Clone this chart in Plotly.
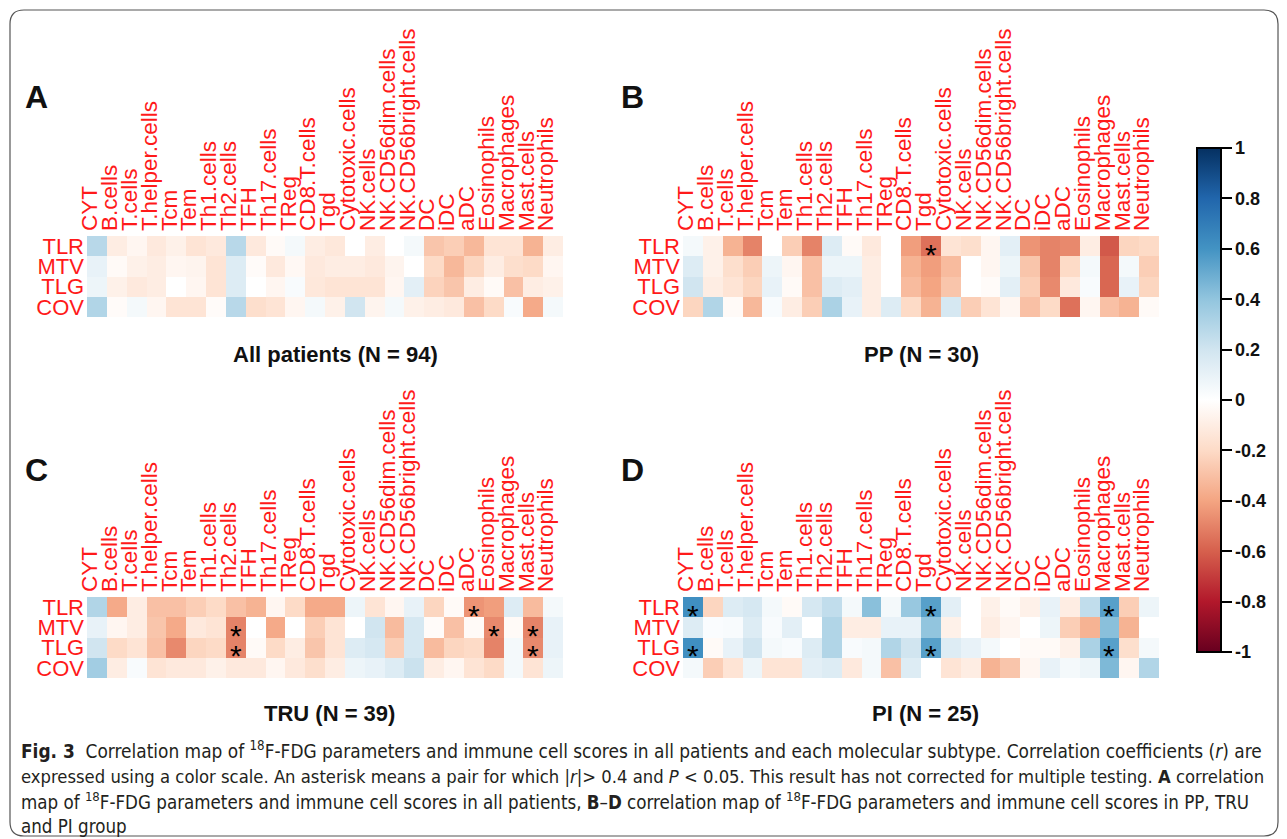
import plotly.graph_objects as go

# ---------------- data ----------------
cols = ["CYT", "B.cells", "T.cells", "T.helper.cells", "Tcm", "Tem", "Th1.cells",
        "Th2.cells", "TFH", "Th17.cells", "TReg", "CD8.T.cells", "Tgd",
        "Cytotoxic.cells", "NK.cells", "NK.CD56dim.cells", "NK.CD56bright.cells",
        "DC", "iDC", "aDC", "Eosinophils", "Macrophages", "Mast.cells", "Neutrophils"]
rows = ["TLR", "MTV", "TLG", "COV"]

r_all = [
    [0.28, -0.10, -0.05, -0.12, -0.08, -0.15, -0.12, 0.28, -0.12, -0.03, 0.05, -0.10,
     -0.13, 0.00, -0.10, 0.00, 0.05, -0.28, -0.25, -0.33, -0.15, -0.15, -0.35, -0.10],
    [0.10, -0.03, -0.08, -0.10, -0.05, -0.06, -0.15, 0.15, -0.02, -0.12, -0.04, -0.12,
     -0.10, -0.10, -0.12, -0.06, 0.00, -0.20, -0.33, -0.22, -0.10, -0.18, -0.20, -0.05],
    [0.08, -0.08, -0.12, -0.10, 0.00, -0.05, -0.15, 0.15, 0.00, -0.05, 0.03, -0.13,
     -0.15, -0.15, -0.15, -0.05, 0.12, -0.23, -0.28, -0.10, -0.03, -0.30, -0.10, -0.08],
    [0.30, -0.02, 0.05, -0.05, -0.15, -0.15, -0.02, 0.28, -0.18, -0.15, -0.05, 0.05,
     -0.08, 0.20, -0.06, 0.05, -0.08, -0.10, -0.12, -0.30, -0.20, 0.03, -0.38, 0.05],
]
r_pp = [
    [0.05, -0.08, -0.35, -0.50, 0.00, -0.25, -0.50, 0.15, -0.03, -0.12, 0.00, -0.42,
     -0.55, -0.15, -0.18, -0.05, 0.12, -0.45, -0.50, -0.48, -0.10, -0.62, -0.22, -0.20],
    [0.15, -0.08, -0.18, -0.25, 0.08, -0.05, -0.30, 0.08, 0.08, -0.10, 0.00, -0.35,
     -0.42, -0.32, 0.00, -0.05, 0.08, -0.28, -0.50, -0.20, 0.05, -0.58, 0.05, -0.25],
    [0.20, -0.10, -0.15, -0.22, 0.10, -0.03, -0.30, 0.15, 0.12, -0.10, 0.00, -0.32,
     -0.40, -0.28, 0.00, -0.02, 0.12, -0.25, -0.48, -0.12, 0.03, -0.58, 0.10, -0.22],
    [-0.22, 0.30, -0.03, -0.33, 0.03, -0.10, -0.25, 0.32, 0.10, -0.10, 0.15, -0.20,
     -0.35, 0.18, -0.25, -0.15, -0.05, -0.30, -0.20, -0.55, -0.05, -0.30, -0.35, -0.03],
]
r_tru = [
    [0.30, -0.38, -0.10, -0.30, -0.30, -0.25, -0.20, -0.30, -0.35, -0.05, -0.20, -0.38,
     -0.38, 0.08, -0.15, -0.05, 0.10, -0.22, -0.03, -0.45, -0.42, 0.15, -0.32, 0.05],
    [0.10, -0.05, -0.10, -0.28, -0.38, -0.12, -0.15, -0.50, 0.00, -0.38, 0.00, -0.25,
     -0.15, 0.00, 0.20, -0.32, 0.18, -0.02, -0.30, -0.03, -0.48, -0.03, -0.50, 0.10],
    [0.20, -0.20, -0.15, -0.30, -0.48, -0.22, -0.20, -0.50, -0.03, -0.20, -0.10, -0.28,
     -0.15, 0.15, 0.18, -0.25, 0.18, -0.32, -0.22, -0.20, -0.50, 0.05, -0.48, 0.10],
    [0.35, -0.10, 0.03, -0.15, -0.12, -0.12, -0.08, -0.12, -0.12, -0.05, -0.12, -0.18,
     -0.10, 0.08, 0.10, 0.15, 0.22, -0.10, -0.05, -0.15, -0.20, 0.05, -0.15, 0.08],
]
r_pi = [
    [0.62, -0.22, 0.15, 0.18, 0.05, -0.03, 0.18, 0.25, 0.05, 0.42, 0.05, 0.38,
     0.55, 0.12, 0.00, -0.08, -0.03, -0.08, 0.10, -0.10, 0.25, 0.55, -0.25, 0.08],
    [0.15, 0.02, 0.03, 0.15, 0.03, 0.12, 0.00, 0.30, -0.10, -0.10, 0.10, 0.10,
     0.40, -0.08, 0.00, -0.10, -0.05, 0.00, 0.08, -0.25, -0.35, 0.42, -0.35, 0.00],
    [0.62, -0.03, 0.10, 0.20, 0.05, 0.03, 0.15, 0.30, 0.03, 0.05, 0.30, 0.20,
     0.55, 0.15, 0.10, 0.05, 0.00, -0.03, -0.03, -0.08, 0.32, 0.55, -0.18, 0.05],
    [0.05, -0.25, -0.15, 0.08, -0.15, -0.15, 0.12, 0.15, -0.12, 0.05, -0.30, 0.15,
     0.00, -0.15, -0.10, -0.35, -0.28, -0.05, 0.10, 0.05, 0.08, 0.45, -0.05, 0.30],
]

# significant pairs (|r| > 0.4 and P < 0.05): (row, column)
star_all = []
star_pp = [("TLR", "Tgd")]
star_tru = [("TLR", "aDC"), ("MTV", "Th2.cells"), ("TLG", "Th2.cells"),
            ("MTV", "Eosinophils"), ("MTV", "Mast.cells"), ("TLG", "Mast.cells")]
star_pi = [("TLR", "CYT"), ("TLG", "CYT"), ("TLR", "Tgd"), ("TLG", "Tgd"),
           ("TLR", "Macrophages"), ("TLG", "Macrophages")]

titles = ["All patients (N = 94)", "PP (N = 30)", "TRU (N = 39)", "PI (N = 25)"]
letters = ["A", "B", "C", "D"]

cbar_vals = [1, 0.8, 0.6, 0.4, 0.2, 0, -0.2, -0.4, -0.6, -0.8, -1]
cbar_text = ["1", "0.8", "0.6", "0.4", "0.2", "0", "-0.2", "-0.4", "-0.6", "-0.8", "-1"]

# ---------------- layout geometry (pixels) ----------------
W, H = 1287, 839
def fx(p):
    return p / W
def fy(p):
    return 1 - p / H

boxes = [  # x0, x1, y0(top), y1(bottom)
    (87, 563, 236, 317),
    (683, 1159, 236, 317),
    (87, 563, 597, 678),
    (683, 1159, 597, 678),
]
title_pos = [(335, 354), (921, 354), (330, 713), (925, 713)]
letter_pos = [(36, 97), (632, 97), (36, 470), (632, 470)]

SANS = "Liberation Sans, Arial, Helvetica, sans-serif"
RED = "#FF1A1A"

colorscale = [[0.0, "#67001F"], [0.1, "#B2182B"], [0.2, "#D6604D"], [0.3, "#F4A582"],
              [0.4, "#FDDBC7"], [0.5, "#FFFFFF"], [0.6, "#D1E5F0"], [0.7, "#92C5DE"],
              [0.8, "#4393C3"], [0.9, "#2166AC"], [1.0, "#053061"]]

fig = go.Figure()
data_sets = [r_all, r_pp, r_tru, r_pi]
star_sets = [star_all, star_pp, star_tru, star_pi]
annotations = []

for i, (z, stars) in enumerate(zip(data_sets, star_sets)):
    sfx = "" if i == 0 else str(i + 1)
    fig.add_trace(go.Heatmap(
        z=z, x=cols, y=rows, coloraxis="coloraxis",
        xaxis="x" + sfx, yaxis="y" + sfx, hoverongaps=False,
    ))
    x0, x1, y0, y1 = boxes[i]
    fig.layout["xaxis" + sfx] = dict(
        domain=[fx(x0), fx(x1)], anchor="y" + sfx, side="top",
        range=[-0.5, len(cols) - 0.5], autorange=False,
        tickmode="array", tickvals=cols, ticktext=cols, tickangle=-90,
        tickfont=dict(family=SANS, size=22.5, color=RED),
        showgrid=False, zeroline=False, showline=False, ticks="",
        ticklabelshift=-7, ticklabelstandoff=4, fixedrange=True, automargin=False,
    )
    fig.layout["yaxis" + sfx] = dict(
        domain=[fy(y1), fy(y0)], anchor="x" + sfx,
        range=[len(rows) - 0.5, -0.5], autorange=False,
        tickmode="array", tickvals=rows, ticktext=rows,
        tickfont=dict(family=SANS, size=22, color=RED),
        showgrid=False, zeroline=False, showline=False, ticks="",
        ticklabelstandoff=2, fixedrange=True, automargin=False,
    )
    for (rr, cc) in stars:
        annotations.append(dict(
            x=cc, y=rr, xref="x" + sfx, yref="y" + sfx, text="*", showarrow=False,
            font=dict(family=SANS, size=30, color="black"), yshift=-8,
        ))
    tx, ty = title_pos[i]
    annotations.append(dict(
        x=fx(tx), y=fy(ty), xref="paper", yref="paper", text="<b>%s</b>" % titles[i],
        showarrow=False, xanchor="center", yanchor="middle",
        font=dict(family=SANS, size=22, color="#111111"),
    ))
    lx, ly = letter_pos[i]
    annotations.append(dict(
        x=fx(lx), y=fy(ly), xref="paper", yref="paper", text="<b>%s</b>" % letters[i],
        showarrow=False, xanchor="center", yanchor="middle",
        font=dict(family=SANS, size=32, color="#111111"),
    ))

# caption
CAP = "Liberation Sans Narrow, Arial Narrow, DejaVu Sans Condensed, sans-serif"
caption_lines = [
    "<b>Fig. 3</b>  Correlation map of <sup>18</sup>F-FDG parameters and immune cell scores in all patients and each molecular subtype. Correlation coefficients (<i>r</i>) are",
    "expressed using a color scale. An asterisk means a pair for which |<i>r</i>|> 0.4 and <i>P</i> < 0.05. This result has not corrected for multiple testing. <b>A</b> correlation",
    "map of <sup>18</sup>F-FDG parameters and immune cell scores in all patients, <b>B</b>–<b>D</b> correlation map of <sup>18</sup>F-FDG parameters and immune cell scores in PP, TRU",
    "and PI group",
]
cap_size = [18.9, 18.3, 18.6, 18.6]
cap_y = [750, 776, 801, 826]
for txt, yy, sz in zip(caption_lines, cap_y, cap_size):
    annotations.append(dict(
        x=fx(19), y=fy(yy), xref="paper", yref="paper", text=txt, showarrow=False,
        xanchor="left", yanchor="middle", align="left",
        font=dict(family=CAP, size=sz, color="#231F20"),
    ))

# rounded border
bx0, bx1, by0, by1, rad = 10, 1278, 10, 836, 14
def P(x, y):
    return "%.5f,%.5f" % (fx(x), fy(y))
border = ("M " + P(bx0, by0 + rad) + " Q " + P(bx0, by0) + " " + P(bx0 + rad, by0) +
          " L " + P(bx1 - rad, by0) + " Q " + P(bx1, by0) + " " + P(bx1, by0 + rad) +
          " L " + P(bx1, by1 - rad) + " Q " + P(bx1, by1) + " " + P(bx1 - rad, by1) +
          " L " + P(bx0 + rad, by1) + " Q " + P(bx0, by1) + " " + P(bx0, by1 - rad) + " Z")

fig.update_layout(
    template="none",
    width=W, height=H, autosize=False,
    margin=dict(l=0, r=0, t=0, b=0, pad=0, autoexpand=False),
    paper_bgcolor="white", plot_bgcolor="white",
    showlegend=False,
    annotations=annotations,
    shapes=[dict(type="path", path=border, xref="paper", yref="paper",
                 line=dict(color="#555555", width=1.2))],
    coloraxis=dict(
        colorscale=colorscale, cmin=-1, cmax=1,
        colorbar=dict(
            x=fx(1197), xanchor="left", xpad=0,
            y=fy(400), yanchor="middle", ypad=0,
            lenmode="pixels", len=504, thicknessmode="pixels", thickness=24,
            outlinewidth=2, outlinecolor="black",
            tickmode="array", tickvals=cbar_vals, ticktext=cbar_text,
            ticks="outside", ticklen=10, tickwidth=1.5, tickcolor="black",
            tickfont=dict(family=SANS, size=18, color="#111111", weight="bold"),
        ),
    ),
)

fig.write_html(
    "out.html",
    config={"displayModeBar": False},
    post_script="document.body.style.margin='0px';document.body.style.overflow='hidden';",
)
